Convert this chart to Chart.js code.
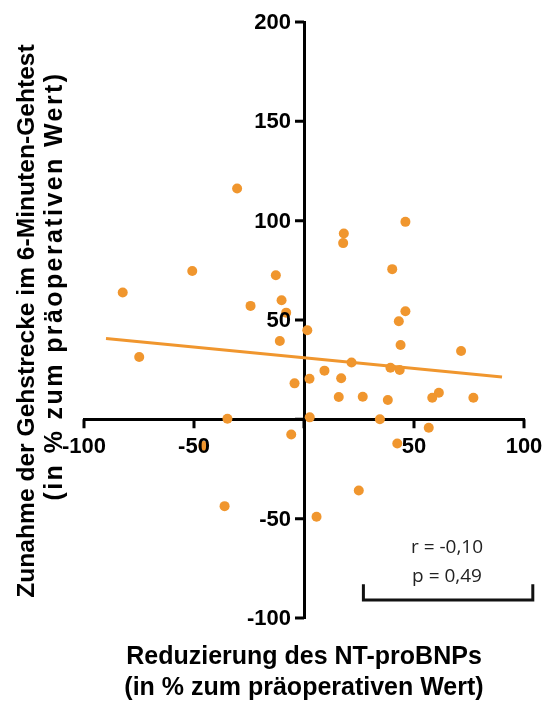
<!DOCTYPE html>
<html>
<head>
<meta charset="utf-8">
<script src="https://cdn.jsdelivr.net/npm/chart.js@4.4.1/dist/chart.umd.min.js"></script>
<style>
  html, body { margin: 0; padding: 0; background: #fff; }
  #wrap { width: 544px; height: 701px; }
</style>
</head>
<body>
<div id="wrap"><canvas id="scatterChart" width="544" height="701"></canvas></div>
<script>
// NT-proBNP reduction (x) vs. 6-minute walk distance gain (y), both in %
const ntReduction = [
    -82.4, -74.9, -50.8, -45.8, -36.1, -34.8, -30.4, -24.3, -12.8, -11.0,
    -10.2, -8.1, -5.8, -4.3, 1.5, 2.5, 2.6, 5.7, 9.3, 15.8,
    16.9, 17.8, 18.1, 21.6, 24.9, 26.7, 34.5, 38.1, 39.3, 40.1,
    42.4, 43.1, 43.5, 43.9, 46.1, 46.1, 56.7, 58.3, 61.3, 71.4, 77.0
];
const walkGain = [
    63.8, 31.4, 74.7, -13.4, -43.7, 0.3, 116.2, 57.1, 72.5, 39.4,
    59.9, 53.7, -7.6, 18.1, 44.8, 20.4, 1.0, -49.0, 24.5, 11.2,
    20.7, 88.7, 93.5, 28.6, -35.8, 11.4, 0.0, 9.7, 26.0, 75.6,
    -12.2, 49.4, 24.8, 37.4, 54.4, 99.4, -4.2, 10.9, 13.4, 34.4, 10.9
];
// regression line end points
const fitX = [-90, 90];
const fitY = [40.7, 21.3];

const xTicks = [-100, -50, 0, 50, 100];
const yTicks = [-100, -50, 0, 50, 100, 150, 200];

const yTitle = ['Zunahme der Gehstrecke im 6-Minuten-Gehtest', '(in % zum präoperativen Wert)'];
const xTitle = ['Reduzierung des NT-proBNPs', '(in % zum präoperativen Wert)'];
const statText = ['r = -0,10', 'p = 0,49'];

const orange = '#F0962E';

const points = ntReduction.map((x, i) => ({ x: x, y: walkGain[i] }));
const fitLine = fitX.map((x, i) => ({ x: x, y: fitY[i] }));

// axes cross at the origin, so ticks, labels and titles are drawn here
const axesPlugin = {
    id: 'crossAxes',
    afterDraw(chart) {
        const ctx = chart.ctx;
        const xs = chart.scales.x;
        const ys = chart.scales.y;
        const x0 = xs.getPixelForValue(0);
        const y0 = ys.getPixelForValue(0);
        ctx.save();

        // tick marks
        ctx.strokeStyle = '#000';
        ctx.lineWidth = 3;
        ctx.beginPath();
        xTicks.forEach(v => {
            const px = xs.getPixelForValue(v);
            ctx.moveTo(px, y0);
            ctx.lineTo(px, y0 + 9);
        });
        yTicks.forEach(v => {
            const py = ys.getPixelForValue(v);
            ctx.moveTo(x0, py);
            ctx.lineTo(x0 - 9, py);
        });
        ctx.stroke();

        // tick labels
        ctx.fillStyle = '#000';
        ctx.font = 'bold 22px "Liberation Sans", Arial, sans-serif';
        ctx.textAlign = 'center';
        ctx.textBaseline = 'middle';
        xTicks.forEach(v => {
            if (v !== 0) ctx.fillText(String(v), xs.getPixelForValue(v), y0 + 28);
        });
        ctx.textAlign = 'right';
        yTicks.forEach(v => {
            if (v !== 0) ctx.fillText(String(v), x0 - 13, ys.getPixelForValue(v) + 1);
        });

        // axis titles
        ctx.font = 'bold 25px "Liberation Sans", Arial, sans-serif';
        ctx.textAlign = 'center';
        ctx.fillText(xTitle[0], x0, 657);
        ctx.fillText(xTitle[1], x0, 688);

        ctx.save();
        ctx.translate(27, 321);
        ctx.rotate(-Math.PI / 2);
        ctx.font = 'bold 24.6px "Liberation Sans", Arial, sans-serif';
        ctx.fillText(yTitle[0], 0, 0);
        ctx.restore();
        ctx.save();
        ctx.translate(55, 286);
        ctx.rotate(-Math.PI / 2);
        ctx.letterSpacing = '2.4px';
        ctx.fillText(yTitle[1], 0, 0);
        ctx.restore();

        // statistics box
        ctx.font = '19px "Open Sans", sans-serif';
        ctx.fillStyle = '#222';
        const tx = xs.getPixelForValue(65);
        ctx.fillText(statText[0], tx, ys.getPixelForValue(-64.5));
        ctx.fillText(statText[1], tx, ys.getPixelForValue(-79));

        const bl = xs.getPixelForValue(27);
        const br = xs.getPixelForValue(104);
        const bTop = ys.getPixelForValue(-83);
        const bBot = ys.getPixelForValue(-91);
        ctx.strokeStyle = '#111';
        ctx.lineWidth = 3;
        ctx.beginPath();
        ctx.moveTo(bl, bTop);
        ctx.lineTo(bl, bBot);
        ctx.lineTo(br, bBot);
        ctx.lineTo(br, bTop);
        ctx.stroke();
        ctx.restore();
    }
};

new Chart(document.getElementById('scatterChart'), {
    type: 'scatter',
    data: {
        datasets: [
            {
                data: points,
                backgroundColor: orange,
                borderColor: orange,
                pointRadius: 5,
                pointHoverRadius: 5,
                borderWidth: 0
            },
            {
                data: fitLine,
                showLine: true,
                borderColor: orange,
                borderWidth: 3,
                pointRadius: 0,
                fill: false
            }
        ]
    },
    options: {
        responsive: false,
        devicePixelRatio: 1,
        animation: false,
        layout: { padding: { left: 84, right: 20, top: 22, bottom: 83 } },
        plugins: {
            legend: { display: false },
            tooltip: { enabled: false }
        },
        scales: {
            x: {
                type: 'linear',
                position: { y: 0 },
                min: -100,
                max: 100,
                grid: { display: false },
                border: { display: true, color: '#000', width: 3 },
                ticks: { display: false }
            },
            y: {
                type: 'linear',
                position: { x: 0 },
                min: -100,
                max: 200,
                grid: { display: false },
                border: { display: true, color: '#000', width: 3 },
                ticks: { display: false }
            }
        }
    },
    plugins: [axesPlugin]
});
</script>
</body>
</html>
